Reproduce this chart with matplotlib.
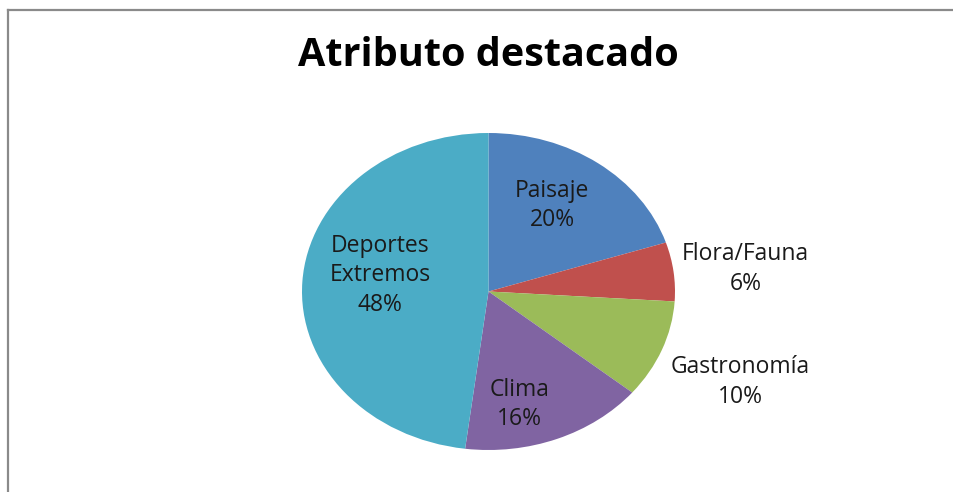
import matplotlib.pyplot as plt
from matplotlib.lines import Line2D
import numpy as np

# datos del grafico
categorias = ['Paisaje', 'Flora/Fauna', 'Gastronomía', 'Clima', 'Deportes\nExtremos']
valores = [20, 6, 10, 16, 48]
colores = ['#4F81BD', '#C0504D', '#9BBB59', '#8064A2', '#4BACC6']
# distancia de cada etiqueta al centro (en radios) y correccion de angulo (grados)
dist_etiquetas = [0.642, 1.387, 1.465, 0.73, 0.59]
ajuste_ang = [4.0, -1.3, -1.3, -8.6, -6.4]

plt.rcParams['font.family'] = ['Open Sans', 'DejaVu Sans']

W, H = 954, 492
fig = plt.figure(figsize=(W / 100, H / 100), dpi=100)

# borde del grafico (solo arriba e izquierda quedan dentro de la imagen)
fig.add_artist(Line2D([8.5 / W, 8.5 / W], [0, 1 - 10.3 / H], color='#8a8a8a', lw=1.6))
fig.add_artist(Line2D([8.5 / W, 1], [1 - 10.3 / H, 1 - 10.3 / H], color='#8a8a8a', lw=1.6))

fig.text(488 / W, 1 - 56 / H, 'Atributo destacado', ha='center', va='center',
         fontsize=28.5, fontweight='bold', color='black')

# torta eliptica
cx, cy, rx, ry = 488.5, 291.5, 186.5, 158.5
ax = fig.add_axes([(cx - rx) / W, (H - cy - ry) / H, 2 * rx / W, 2 * ry / H])
wedges, _ = ax.pie(valores, colors=colores, startangle=90, counterclock=False,
                   wedgeprops=dict(linewidth=0))
ax.set_aspect('auto')
ax.set_xlim(-1, 1)
ax.set_ylim(-1, 1)
ax.axis('off')

total = sum(valores)
for w, cat, v, d, a in zip(wedges, categorias, valores, dist_etiquetas, ajuste_ang):
    ang = np.deg2rad((w.theta1 + w.theta2) / 2 + a)
    ax.text(d * np.cos(ang), d * np.sin(ang), '%s\n%d%%' % (cat, round(100 * v / total)),
            ha='center', va='center', fontsize=16.5, color='#1a1a1a', linespacing=1.3,
            clip_on=False)

fig.savefig('out.png', dpi=100)
